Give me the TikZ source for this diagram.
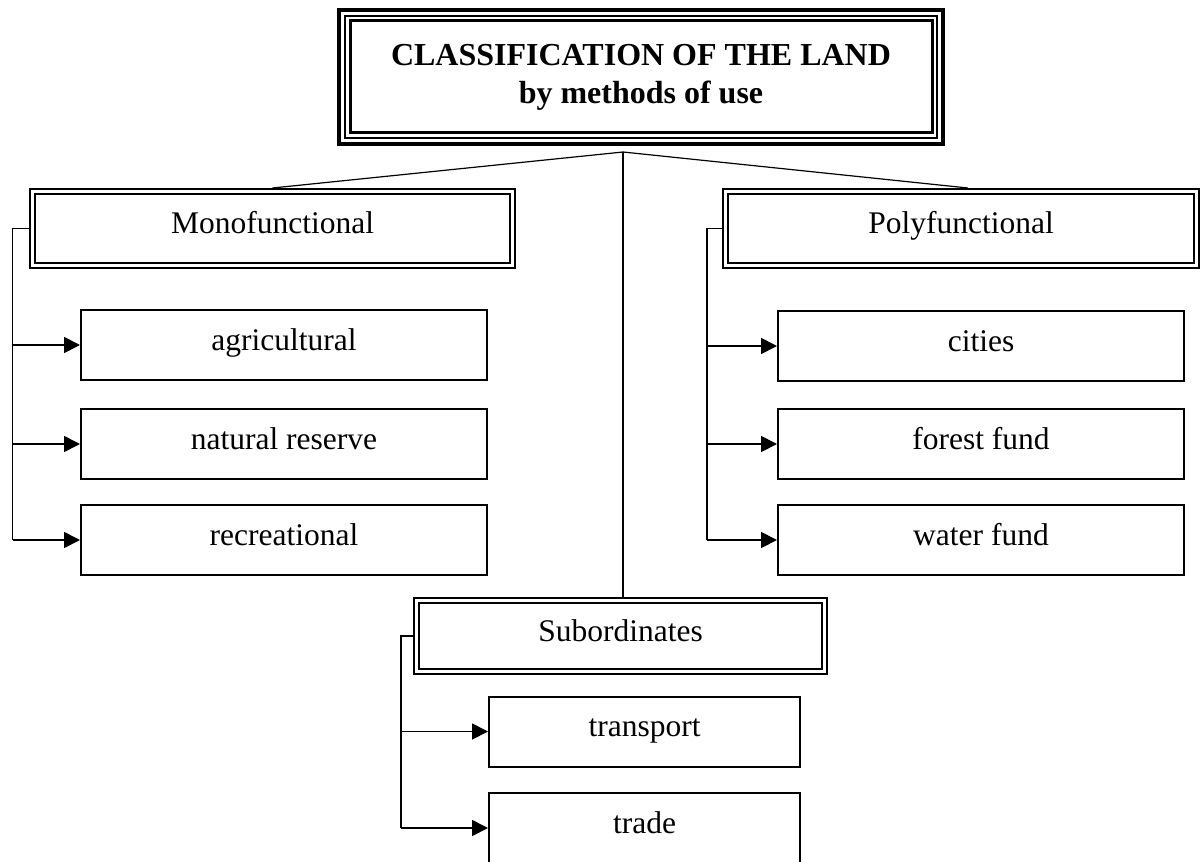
\documentclass[tikz,border=0pt]{standalone}
\usepackage{fontspec}
\setmainfont{Liberation Serif}
\usetikzlibrary{arrows.meta}

\begin{document}
\begin{tikzpicture}[x=0.5pt,y=-0.5pt,
  headbox/.style={draw,line width=1.5pt,outer sep=0pt,minimum width=291pt,minimum height=56pt,align=center,font=\fontsize{16pt}{19pt}\selectfont\bfseries},
  groupbox/.style={draw,line width=1.1pt,double,double distance=1.3pt,outer sep=1.75pt,inner sep=0pt,minimum height=37pt,text height=9pt,text depth=4pt,font=\fontsize{15.75pt}{19pt}\selectfont},
  leafbox/.style={draw,line width=1pt,inner sep=0pt,minimum width=203pt,minimum height=35pt,text height=9pt,text depth=4pt,font=\fontsize{15.75pt}{19pt}\selectfont},
  link/.style={line width=0.6pt},
  rail/.style={line width=0.9pt},
  feed/.style={rail,-{Triangle[length=8pt,width=8pt]}},
]
\useasboundingbox (0,0) rectangle (1202,861);
% title with three frames
\node[headbox] (head) at (641,77) {CLASSIFICATION OF THE LAND\\by methods of use};
\draw[line width=0.75pt] ([shift={(-2.5pt,2.5pt)}]head.north west) rectangle ([shift={(2.5pt,-2.5pt)}]head.south east);
\draw[line width=2.2pt] ([shift={(-5.4pt,5.4pt)}]head.north west) rectangle ([shift={(5.4pt,-5.4pt)}]head.south east);
% groups
\node[groupbox,minimum width=240pt] (mono) at (272.5,228.5) {Monofunctional};
\node[groupbox,minimum width=235.5pt] (poly) at (961,228.5) {Polyfunctional};
\node[groupbox,minimum width=204pt,minimum height=35.5pt] (subord) at (620.5,636) {Subordinates};
% kinds of land
\node[leafbox] (agri) at (284,345) {agricultural};
\node[leafbox] (reserve) at (284,444) {natural reserve};
\node[leafbox] (recr) at (284,540) {recreational};
\node[leafbox] (cities) at (981,346) {cities};
\node[leafbox] (forest) at (981,444) {forest fund};
\node[leafbox] (water) at (981,540) {water fund};
\node[leafbox,minimum width=155.5pt] (transport) at (644.5,731.5) {transport};
\node[leafbox,minimum width=155.5pt] (trade) at (644.5,828) {trade};
% split under the title
\coordinate (split) at (623,152);
\draw[link] (split) -- (mono.north);
\draw[link] (split) -- ([xshift=3.5pt]poly.north);
\draw[link] (split) -- (split |- subord.north);
% rails and arrows
\coordinate (lrail) at (12.5,0);
\coordinate (rrail) at (707,0);
\coordinate (srail) at (401,0);
\draw[rail] (mono.west) -| (lrail |- recr.west);
\draw[rail] (poly.west) -| (rrail |- water.west);
\draw[rail] (subord.west) -| (srail |- trade.west);
\foreach \leaf in {agri,reserve,recr} \draw[feed] (lrail |- \leaf.west) -- (\leaf.west);
\foreach \leaf in {cities,forest,water} \draw[feed] (rrail |- \leaf.west) -- (\leaf.west);
\foreach \leaf in {transport,trade} \draw[feed] (srail |- \leaf.west) -- (\leaf.west);
\end{tikzpicture}
\end{document}
